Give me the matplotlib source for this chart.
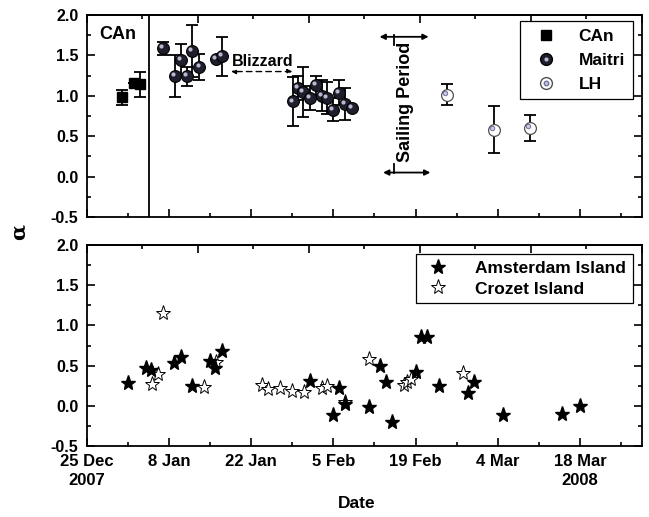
import matplotlib
matplotlib.use("Agg")
import matplotlib.pyplot as plt
from matplotlib.lines import Line2D
from matplotlib.transforms import offset_copy
from matplotlib.ticker import MultipleLocator, FixedLocator

plt.rcParams['font.family'] = ['Liberation Sans', 'DejaVu Sans']
plt.rcParams['font.weight'] = 'bold'

# days counted from 25 Dec 2007
X_END = 94.5
tick_days = [0, 14, 28, 42, 56, 70, 84]
tick_labels = ["25 Dec\n2007", "8 Jan", "22 Jan", "5 Feb", "19 Feb", "4 Mar", "18 Mar\n2008"]

# top panel: alpha with error bars
can_day = [6.0, 8.0, 9.0]
can_alpha = [0.98, 1.16, 1.14]
can_err = [0.09, 0.0, 0.16]

maitri_day = [13.0, 15.0, 16.0, 17.0, 18.0, 19.2, 22.0, 23.1,
              35.2, 36.0, 36.9, 38.0, 39.0, 40.0, 40.9, 42.0, 43.0, 44.0, 45.2]
maitri_alpha = [1.59, 1.24, 1.44, 1.24, 1.55, 1.36, 1.46, 1.49,
                0.93, 1.10, 1.05, 0.97, 1.13, 1.00, 0.97, 0.83, 1.04, 0.90, 0.85]
maitri_err = [0.08, 0.26, 0.20, 0.12, 0.32, 0.16, 0.0, 0.24,
              0.30, 0.15, 0.31, 0.15, 0.12, 0.19, 0.20, 0.14, 0.15, 0.20, 0.0]

lh_day = [61.4, 69.3, 75.5]
lh_alpha = [1.01, 0.58, 0.60]
lh_err = [0.13, 0.29, 0.165]

# bottom panel
ams_day = [7.0, 10.1, 11.0, 14.9, 16.0, 18.0, 21.0, 21.9, 23.1, 38.0, 42.0, 43.0, 44.0,
           48.1, 49.9, 51.0, 52.0, 56.1, 56.9, 58.0, 60.0, 65.0, 66.0, 70.9, 81.0, 84.0]
ams_alpha = [0.28, 0.47, 0.45, 0.53, 0.61, 0.25, 0.56, 0.47, 0.68, 0.31, -0.12, 0.22, 0.02,
             -0.01, 0.49, 0.30, -0.20, 0.42, 0.86, 0.86, 0.25, 0.16, 0.30, -0.11, -0.10, 0.0]

cro_day = [11.1, 12.1, 13.0, 20.0, 22.0, 29.8, 30.9, 32.9, 35.0, 37.0, 40.0, 41.0, 44.0,
           48.1, 54.0, 54.6, 55.2, 64.0]
cro_alpha = [0.27, 0.39, 1.15, 0.24, 0.55, 0.26, 0.21, 0.22, 0.19, 0.17, 0.22, 0.25, 0.05,
             0.58, 0.26, 0.30, 0.33, 0.41]

fig = plt.figure(figsize=(6.49, 5.17), dpi=100)
ax1 = fig.add_axes([0.1336, 0.5803, 0.855, 0.3907])
ax2 = fig.add_axes([0.1336, 0.1373, 0.855, 0.3888])

def style_axis(ax, show_labels):
    ax.set_xlim(0, X_END)
    ax.set_ylim(-0.5, 2.0)
    ax.yaxis.set_minor_locator(MultipleLocator(0.25))
    ax.set_yticks([-0.5, 0.0, 0.5, 1.0, 1.5, 2.0])
    ax.set_yticklabels(["-0.5", "0.0", "0.5", "1.0", "1.5", "2.0"])
    ax.xaxis.set_major_locator(FixedLocator(tick_days))
    ax.xaxis.set_minor_locator(MultipleLocator(7))
    if show_labels:
        ax.set_xticklabels(tick_labels, linespacing=1.3)
    else:
        ax.set_xticklabels([])
    ax.tick_params(which='both', direction='in', right=True, width=1.2)
    ax.tick_params(which='major', length=5.5)
    ax.tick_params(which='minor', length=3)
    ax.tick_params(axis='y', pad=6, labelsize=11.5)
    ax.tick_params(axis='x', pad=6, labelsize=12)
    for s in ax.spines.values():
        s.set_linewidth(1.3)
    top = ax.secondary_xaxis('top', functions=(lambda d: d / X_END * 100, lambda p: p * X_END / 100))
    top.xaxis.set_major_locator(MultipleLocator(20))
    top.xaxis.set_minor_locator(MultipleLocator(10))
    top.tick_params(which='both', direction='in', labeltop=False, width=1.2)
    top.tick_params(which='major', length=5.5)
    top.tick_params(which='minor', length=3)
    top.spines['top'].set_linewidth(1.3)

style_axis(ax1, False)
style_axis(ax2, True)

eb = dict(fmt='none', ecolor='black', elinewidth=1.3, capsize=4, capthick=1.3, zorder=2)
ax1.errorbar(can_day, can_alpha, yerr=can_err, **eb)
ax1.errorbar(maitri_day, maitri_alpha, yerr=maitri_err, **eb)
ax1.errorbar(lh_day, lh_alpha, yerr=lh_err, **eb)

ax1.plot(can_day, can_alpha, 's', color='black', markersize=7, zorder=3)
ax1.plot(maitri_day, maitri_alpha, 'o', markerfacecolor='#1e1e2c', markeredgecolor='black',
         markersize=8.5, markeredgewidth=0.8, zorder=3)
hl = offset_copy(ax1.transData, fig=fig, x=-1.4, y=1.4, units='points')
ax1.plot(maitri_day, maitri_alpha, 'o', color='#b8b8d0', markersize=3, markeredgewidth=0,
         transform=hl, zorder=4)
ax1.plot(lh_day, lh_alpha, 'o', markerfacecolor='white', markeredgecolor='#505050',
         markersize=8.5, markeredgewidth=0.9, zorder=3)
ax1.plot(lh_day, lh_alpha, 'o', markerfacecolor='#c8c8e0', markeredgecolor='#7070a0',
         markersize=3.2, markeredgewidth=0.7, transform=hl, zorder=4)

# vertical separator and annotations
ax1.axvline(10.66, color='black', lw=1.3, zorder=1)
ax1.text(2.2, 1.76, "CAn", fontsize=13, fontweight='bold', va='center', ha='left')
ax1.text(30.0, 1.42, "Blizzard", fontsize=11.5, fontweight='bold', va='center', ha='center')
ax1.annotate("", xy=(24.1, 1.30), xytext=(35.5, 1.30),
             arrowprops=dict(arrowstyle='<|-|>', linestyle=(0, (4, 3)), color='black',
                             lw=1.0, mutation_scale=7))
ax1.annotate("", xy=(49.4, 1.73), xytext=(58.7, 1.73),
             arrowprops=dict(arrowstyle='<|-|>', color='black', lw=1.3, mutation_scale=8))
ax1.annotate("", xy=(50.0, 0.05), xytext=(59.0, 0.05),
             arrowprops=dict(arrowstyle='<|-|>', color='black', lw=1.3, mutation_scale=8))
ax1.plot([52.3, 52.3], [1.63, 1.75], color='black', lw=1.3)
ax1.plot([52.3, 52.3], [0.04, 0.15], color='black', lw=1.3)
ax1.text(54.3, 0.93, "Sailing Period", rotation=90, fontsize=13, fontweight='bold',
         va='center', ha='center')

leg1_handles = [
    Line2D([], [], ls='none', marker='s', color='black', markersize=7),
    (Line2D([], [], ls='none', marker='o', markerfacecolor='#1e1e2c', markeredgecolor='black', markersize=8.5),
     Line2D([], [], ls='none', marker='o', color='#b8b8d0', markersize=3, markeredgewidth=0)),
    (Line2D([], [], ls='none', marker='o', markerfacecolor='white', markeredgecolor='#505050', markersize=8.5),
     Line2D([], [], ls='none', marker='o', markerfacecolor='#c8c8e0', markeredgecolor='#7070a0', markersize=3.2)),
]
leg1 = ax1.legend(leg1_handles, ["CAn", "Maitri", "LH"], loc='upper right',
                  bbox_to_anchor=(0.984, 0.970), borderaxespad=0, fancybox=False,
                  edgecolor='black', framealpha=1, prop=dict(size=12.5, weight='bold'),
                  handlelength=2.0, handletextpad=0.9, borderpad=0.45, labelspacing=0.5)
leg1.get_frame().set_linewidth(0.9)

ax2.plot(ams_day, ams_alpha, '*', color='black', markersize=11, zorder=3,
         label="Amsterdam Island")
ax2.plot(cro_day, cro_alpha, '*', markerfacecolor='white', markeredgecolor='black',
         markersize=11, markeredgewidth=0.7, zorder=2, label="Crozet Island")
leg2 = ax2.legend(loc='upper right', bbox_to_anchor=(0.984, 0.955), borderaxespad=0,
                  fancybox=False, edgecolor='black', framealpha=1,
                  prop=dict(size=12.5, weight='bold'), handlelength=1.8, handletextpad=1.2,
                  borderpad=0.4, labelspacing=0.3)
leg2.get_frame().set_linewidth(0.9)

fig.text(0.028, 1 - 232 / 517, "α", rotation=90, fontsize=15, family='DejaVu Serif',
         va='center', ha='center')
fig.text(357 / 649, 1 - 503 / 517, "Date", fontsize=12.5, fontweight='bold',
         va='center', ha='center')

fig.savefig("out.png", dpi=100)
